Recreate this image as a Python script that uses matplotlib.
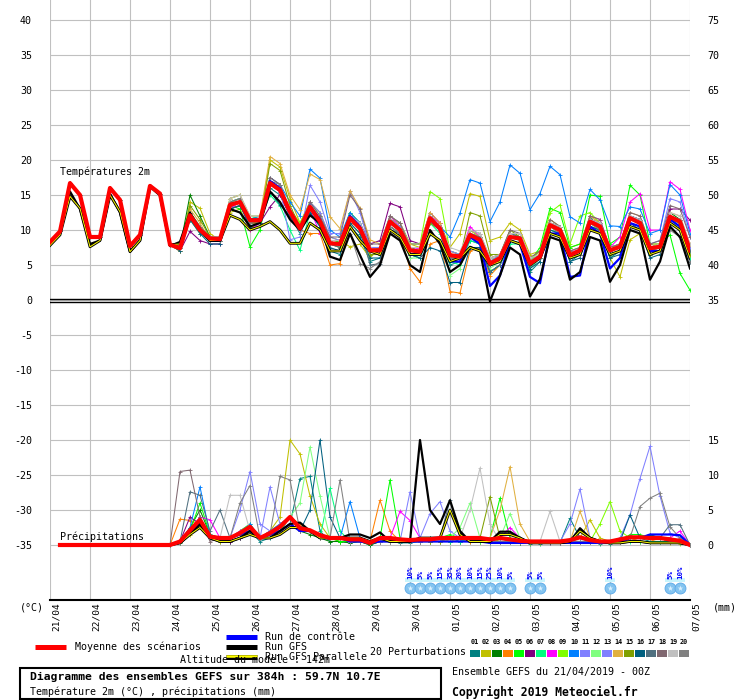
import matplotlib
matplotlib.use('Agg')
import matplotlib.pyplot as plt
from matplotlib.lines import Line2D
from matplotlib.patches import Rectangle
import matplotlib.transforms as mtrans

plt.rcParams['font.family'] = ['DejaVu Sans Mono', 'DejaVu Sans']

# ---------------- data ----------------
steps = list(range(65))                      # 6-hourly steps, 21/04 00Z .. 07/05 00Z
day_labels = ['21/04', '22/04', '23/04', '24/04', '25/04', '26/04', '27/04', '28/04',
              '29/04', '30/04', '01/05', '02/05', '03/05', '04/05', '05/05', '06/05', '07/05']
day_steps = list(range(0, 65, 4))

# temperature: common start (steps 0-12)
t_start = [8.3, 9.8, 16.7, 15.0, 9.0, 9.0, 16.0, 14.3, 7.7, 9.3, 16.3, 15.2, 7.9]

t_mean = [8.3, 9.8, 16.7, 15.0, 9.0, 9.0, 16.0, 14.3, 7.7, 9.3, 16.3, 15.2, 7.9,
          7.4, 12.1, 10.0, 8.8, 8.7, 13.6, 14.0, 11.4, 11.4, 16.7, 15.7,
          12.6, 10.2, 13.3, 11.2, 8.1, 8.0, 11.7, 10.2, 7.1, 7.1, 11.2, 10.0,
          7.1, 6.9, 11.7, 10.2, 6.4, 6.2, 9.3, 8.6, 5.2, 6.0, 9.0, 8.8,
          5.2, 6.2, 10.7, 10.0, 6.4, 7.1, 11.2, 10.5, 7.1, 7.6, 11.7, 11.0,
          7.4, 7.6, 11.9, 11.2, 7.1]

t_gfs = [8.0, 9.5, 15.5, 13.0, 8.0, 8.5, 15.2, 12.5, 6.9, 8.5, 16.4, 15.0, 7.7,
         8.3, 12.5, 10.0, 8.5, 8.5, 13.0, 12.5, 10.5, 11.0, 15.5, 14.0,
         11.5, 10.0, 12.1, 11.0, 6.2, 5.7, 9.5, 6.4, 3.3, 5.0, 9.5, 8.5,
         5.0, 4.0, 10.0, 8.0, 4.0, 5.0, 7.6, 7.0, -0.2, 3.5, 7.5, 6.5,
         0.5, 3.0, 9.0, 8.5, 2.9, 4.0, 9.0, 8.5, 2.6, 5.0, 10.0, 9.5,
         2.9, 5.5, 10.5, 9.0, 4.5]

t_para = [7.8, 9.3, 14.8, 13.1, 7.6, 8.5, 15.0, 12.6, 6.9, 8.5, 16.2, 15.0, 7.9,
          8.0, 12.0, 10.0, 8.5, 8.5, 12.1, 11.5, 10.0, 10.5, 11.2, 10.0,
          8.1, 8.1, 11.0, 10.0, 7.0, 7.0, 10.5, 8.5, 7.0, 6.5, 10.0, 9.0,
          6.5, 6.5, 9.5, 8.5, 5.5, 6.0, 7.5, 7.0, 5.0, 5.5, 8.5, 8.0,
          5.0, 6.0, 9.5, 9.0, 6.0, 6.5, 10.0, 9.5, 6.5, 7.0, 10.5, 10.0,
          6.5, 7.0, 11.0, 10.0, 6.0]

# control and perturbations: steps 13-64
t_ctrl = [7.5, 12.0, 10.0, 8.5, 8.5, 13.5, 14.0, 11.5, 11.5, 17.0, 16.0,
          12.5, 10.0, 13.5, 11.5, 8.0, 8.0, 12.0, 10.5, 7.0, 7.0, 11.0, 10.0,
          6.5, 6.5, 11.5, 10.0, 5.5, 5.5, 9.0, 8.0, 2.0, 3.5, 8.5, 8.0,
          3.3, 2.4, 9.5, 9.5, 3.3, 3.5, 10.5, 9.5, 4.5, 6.0, 11.0, 10.5,
          7.0, 7.0, 11.5, 10.5, 6.0]
t_m01 = [7.5, 11.5, 9.5, 8.5, 8.4, 13.0, 13.5, 11.0, 11.5, 16.0, 15.0,
         12.0, 9.5, 12.5, 10.5, 7.0, 6.5, 10.5, 9.0, 5.5, 6.0, 10.0, 9.5,
         6.5, 6.0, 9.5, 8.5, 5.0, 5.5, 8.5, 8.0, 4.0, 5.0, 8.5, 8.0,
         4.0, 5.5, 10.0, 9.5, 5.5, 6.5, 12.0, 10.0, 6.0, 7.0, 11.0, 10.5,
         6.5, 7.0, 11.5, 10.5, 6.0]
t_m02 = [7.0, 14.0, 13.1, 9.5, 8.5, 12.5, 13.0, 10.0, 11.5, 20.0, 19.0,
         14.5, 11.0, 14.0, 12.5, 9.0, 8.5, 7.6, 8.0, 6.0, 7.5, 11.5, 11.0,
         8.0, 7.5, 12.0, 11.0, 7.5, 9.5, 15.2, 14.8, 8.5, 9.0, 11.0, 10.0,
         6.5, 7.0, 11.5, 10.5, 7.5, 8.0, 12.0, 11.0, 6.0, 3.3, 8.6, 9.5,
         7.0, 8.0, 11.0, 10.5, 6.5]
t_m03 = [7.5, 15.0, 12.0, 9.0, 9.0, 14.0, 14.5, 11.5, 11.5, 17.0, 16.0,
         13.0, 10.5, 13.5, 11.5, 8.0, 8.0, 12.0, 11.0, 7.5, 7.0, 11.0, 10.0,
         7.0, 7.0, 11.5, 10.0, 6.0, 6.0, 9.0, 8.5, 5.0, 6.0, 9.5, 9.0,
         5.5, 6.5, 11.0, 10.0, 6.5, 7.0, 11.0, 10.0, 7.5, 8.0, 12.0, 11.5,
         7.5, 8.0, 12.5, 11.5, 7.5]
t_m04 = [7.0, 12.0, 10.0, 8.5, 8.5, 13.5, 14.0, 11.0, 11.0, 17.5, 16.5,
         12.5, 10.0, 9.5, 9.5, 5.0, 5.2, 11.0, 10.5, 6.5, 6.5, 10.5, 9.5,
         4.5, 2.6, 8.0, 8.5, 1.2, 1.0, 7.0, 7.5, 3.5, 5.0, 8.5, 8.0,
         4.5, 6.0, 10.5, 9.5, 6.0, 7.0, 11.5, 11.0, 7.0, 7.5, 12.0, 11.0,
         7.0, 7.5, 12.0, 11.5, 7.5]
t_m05 = [7.5, 12.5, 10.5, 9.0, 8.5, 13.5, 13.0, 7.6, 10.0, 16.5, 15.5,
         12.0, 10.0, 13.0, 11.0, 8.0, 8.5, 12.5, 11.0, 7.0, 7.5, 11.5, 10.5,
         7.5, 7.0, 12.0, 10.5, 6.5, 6.5, 10.0, 9.0, 5.5, 6.5, 9.5, 9.0,
         5.5, 7.5, 13.1, 12.5, 7.5, 8.0, 15.0, 14.8, 8.0, 9.0, 16.4, 15.0,
         8.0, 8.0, 9.3, 3.8, 1.4]
t_m06 = [7.0, 9.8, 8.5, 8.0, 8.0, 13.0, 13.5, 11.0, 11.0, 13.3, 15.0,
         12.0, 10.0, 13.0, 11.0, 8.5, 8.5, 12.0, 11.0, 8.0, 8.5, 13.8, 13.3,
         8.5, 8.0, 12.5, 11.0, 7.0, 6.5, 9.5, 9.0, 5.5, 6.0, 9.0, 9.0,
         5.5, 6.5, 11.0, 10.5, 6.5, 7.0, 11.5, 11.0, 7.0, 7.5, 12.0, 11.5,
         7.5, 8.0, 13.0, 13.0, 11.4]
t_m07 = [7.5, 12.0, 10.0, 9.0, 9.0, 14.0, 14.0, 12.0, 11.5, 15.0, 13.5,
         10.0, 7.1, 12.5, 10.5, 8.0, 8.0, 12.0, 10.5, 7.0, 7.0, 11.0, 10.0,
         6.5, 6.0, 11.0, 9.5, 5.5, 5.0, 8.5, 8.0, 4.0, 5.0, 8.0, 8.0,
         4.5, 6.0, 10.5, 10.0, 6.0, 6.5, 10.5, 10.0, 6.5, 7.0, 11.0, 10.5,
         7.0, 7.5, 11.5, 11.0, 6.0]
t_m08 = [7.5, 12.5, 10.0, 8.5, 8.5, 13.0, 14.0, 10.0, 11.0, 16.5, 15.5,
         12.0, 10.5, 13.0, 9.5, 8.0, 7.5, 11.5, 10.5, 7.0, 7.0, 12.0, 10.5,
         7.0, 7.5, 12.0, 11.0, 6.5, 6.5, 10.5, 9.0, 5.0, 6.0, 9.0, 9.0,
         5.0, 6.5, 11.0, 10.0, 7.0, 7.0, 12.0, 11.5, 7.5, 9.0, 14.0, 15.2,
         10.0, 10.0, 16.9, 15.8, 10.0]
t_m09 = [7.5, 12.5, 10.5, 9.0, 9.0, 14.5, 15.0, 11.5, 12.0, 17.0, 16.0,
         13.0, 11.0, 14.0, 12.0, 8.5, 8.5, 12.5, 11.0, 7.5, 7.5, 11.5, 10.5,
         8.0, 8.0, 15.5, 14.5, 7.0, 6.5, 9.5, 9.0, 5.5, 6.0, 9.0, 8.5,
         5.5, 7.0, 12.5, 13.6, 8.0, 12.0, 12.5, 11.0, 7.5, 8.0, 12.0, 11.0,
         7.5, 8.0, 12.0, 11.0, 7.0]
t_m10 = [7.5, 12.0, 10.0, 9.0, 9.0, 14.0, 14.5, 11.5, 12.0, 17.5, 16.5,
         14.0, 12.0, 18.7, 17.4, 10.0, 9.0, 12.5, 11.0, 7.5, 7.5, 12.0, 11.0,
         8.0, 8.0, 12.0, 10.5, 9.0, 12.4, 17.2, 16.7, 11.2, 14.0, 19.3, 18.1,
         12.9, 15.2, 19.1, 17.9, 11.9, 11.0, 15.8, 14.3, 10.6, 10.5, 13.3, 13.0,
         9.5, 10.0, 16.5, 15.0, 9.5]
t_m11 = [7.5, 12.0, 10.0, 8.5, 8.5, 13.5, 14.0, 11.5, 11.0, 17.0, 16.0,
         8.6, 9.0, 16.4, 14.0, 9.5, 9.5, 15.6, 12.5, 7.5, 7.0, 11.0, 10.0,
         7.0, 7.0, 11.5, 10.0, 6.0, 6.0, 9.5, 8.5, 5.0, 5.5, 9.0, 9.0,
         5.0, 6.0, 10.5, 10.0, 6.0, 7.0, 11.0, 10.5, 7.5, 8.0, 12.0, 11.5,
         8.0, 8.5, 14.5, 14.0, 9.0]
t_m12 = [7.0, 11.5, 9.5, 8.5, 8.5, 14.0, 14.5, 12.0, 12.0, 17.0, 16.0,
         13.0, 10.5, 13.0, 11.0, 8.0, 7.5, 11.0, 9.5, 6.5, 6.5, 10.5, 9.5,
         6.0, 6.0, 11.5, 10.0, 3.5, 4.5, 9.0, 8.5, 4.5, 5.5, 9.5, 9.0,
         5.0, 6.0, 10.0, 9.5, 6.0, 7.0, 11.0, 10.0, 6.5, 7.0, 11.5, 11.0,
         7.0, 7.5, 11.0, 10.5, 6.5]
t_m13 = [7.5, 12.5, 10.5, 9.0, 9.0, 13.5, 14.0, 11.0, 11.5, 16.5, 15.5,
         12.5, 10.0, 14.0, 12.5, 9.0, 8.5, 12.0, 11.0, 7.5, 7.5, 11.5, 10.5,
         7.5, 7.0, 12.0, 10.5, 7.0, 6.5, 9.5, 9.0, 5.5, 6.5, 9.5, 9.0,
         5.5, 6.5, 11.0, 10.5, 7.0, 7.5, 11.5, 11.0, 7.0, 7.5, 11.5, 11.0,
         7.5, 7.5, 12.0, 11.5, 7.5]
t_m14 = [7.0, 13.0, 11.0, 8.5, 8.5, 14.5, 15.0, 12.0, 12.0, 20.5, 19.5,
         15.0, 12.9, 18.0, 17.2, 11.9, 10.2, 15.6, 13.1, 8.6, 8.0, 12.0, 11.0,
         8.0, 8.0, 12.5, 11.0, 6.5, 6.5, 10.0, 9.0, 6.0, 6.5, 9.5, 9.5,
         6.0, 7.0, 11.0, 10.5, 7.0, 7.5, 12.0, 11.0, 7.5, 8.0, 12.5, 12.0,
         8.0, 8.0, 12.5, 12.0, 8.0]
t_m15 = [7.5, 13.5, 11.5, 9.0, 9.0, 13.0, 13.5, 11.0, 11.0, 19.5, 18.5,
         13.5, 10.5, 13.5, 11.5, 8.0, 7.5, 11.5, 10.5, 6.5, 6.5, 11.0, 10.0,
         7.0, 7.0, 11.0, 10.0, 6.0, 6.0, 12.5, 12.0, 6.5, 6.5, 10.0, 9.0,
         5.0, 6.0, 10.5, 10.0, 6.0, 6.5, 10.5, 10.0, 6.5, 7.0, 11.0, 10.5,
         6.5, 7.0, 11.5, 11.0, 6.5]
t_m16 = [7.0, 11.5, 9.5, 8.0, 8.0, 13.0, 13.5, 10.5, 11.0, 15.5, 13.6,
         12.0, 10.0, 12.5, 10.5, 7.5, 7.0, 11.0, 9.5, 6.0, 6.0, 10.5, 9.5,
         6.5, 6.0, 7.5, 7.0, 2.5, 2.5, 7.5, 7.5, 4.0, 5.0, 8.5, 8.0,
         4.5, 5.5, 10.0, 9.5, 5.5, 6.0, 10.5, 10.0, 6.0, 6.5, 11.0, 10.0,
         6.0, 6.5, 11.0, 10.0, 5.5]
t_m17 = [7.5, 12.0, 10.0, 9.0, 8.5, 13.5, 14.0, 11.5, 11.5, 17.0, 16.0,
         12.5, 10.0, 13.5, 11.5, 8.0, 7.5, 12.0, 10.5, 5.0, 5.2, 10.0, 9.5,
         6.5, 6.5, 12.0, 10.5, 6.0, 6.0, 9.5, 9.0, 4.0, 5.0, 9.5, 9.0,
         5.0, 6.5, 11.0, 10.5, 6.5, 7.0, 11.5, 11.0, 7.0, 7.5, 12.0, 11.5,
         7.0, 7.5, 12.0, 11.5, 7.0]
t_m18 = [7.5, 12.5, 10.5, 9.0, 9.0, 14.0, 14.5, 11.5, 11.5, 17.5, 16.5,
         13.0, 10.5, 14.0, 12.0, 9.0, 9.0, 15.0, 13.0, 8.0, 8.0, 12.0, 11.0,
         7.5, 7.0, 12.0, 10.5, 6.5, 6.5, 10.0, 9.5, 6.0, 6.5, 10.0, 9.5,
         6.0, 7.0, 11.5, 10.5, 7.0, 7.5, 12.0, 11.5, 7.5, 8.0, 12.5, 12.0,
         8.0, 8.5, 13.5, 13.0, 9.0]
t_m19 = [7.5, 12.0, 10.0, 9.0, 9.0, 14.5, 15.0, 12.0, 12.0, 17.0, 16.0,
         13.0, 10.5, 13.5, 11.5, 8.5, 8.5, 12.0, 11.0, 7.5, 7.0, 11.0, 10.0,
         7.5, 7.5, 12.0, 10.5, 7.5, 7.0, 10.0, 9.5, 6.0, 6.5, 9.5, 9.5,
         6.0, 6.5, 11.0, 10.5, 6.5, 7.0, 11.5, 11.0, 7.5, 7.5, 12.0, 11.5,
         7.5, 8.0, 12.5, 12.0, 8.0]
t_m20 = [7.5, 12.0, 10.0, 8.5, 8.5, 13.5, 14.0, 11.0, 11.5, 17.0, 16.5,
         12.5, 10.0, 13.0, 11.0, 8.0, 8.0, 9.5, 5.2, 4.5, 5.5, 10.5, 9.5,
         6.5, 6.5, 11.5, 10.0, 6.0, 6.0, 9.0, 8.5, 5.0, 6.0, 9.0, 8.5,
         5.0, 6.0, 10.5, 9.5, 6.0, 6.5, 11.0, 10.0, 7.0, 7.5, 11.5, 11.0,
         7.0, 7.0, 10.0, 9.0, 5.5]

# precipitation (mm / 6h)
p_mean = [0, 0, 0, 0, 0, 0, 0, 0, 0, 0, 0,          # steps 1-11
          0, 0.5, 2.1, 3.6, 1.2, 1.0, 1.0, 1.7, 2.6, 1.0, 1.7, 2.6,
          4.0, 2.4, 2.1, 1.4, 1.0, 1.0, 0.8, 0.8, 0.3, 1.0, 1.0, 0.8,
          0.7, 0.8, 0.8, 1.0, 1.0, 1.0, 1.0, 1.0, 0.8, 1.0, 0.8, 0.6,
          0.5, 0.5, 0.5, 0.5, 0.7, 1.1, 0.7, 0.5, 0.5, 0.8, 1.1, 1.1,
          1.0, 1.0, 0.8, 0.6, 0.0]
# steps 12-64
p_gfs = [0, 0.3, 1.5, 3, 1, 0.5, 0.5, 1, 2, 1, 1, 2, 3, 3.2, 2, 1.5,
         1, 1, 1.5, 1.5, 1, 1.8, 0.5, 0.5, 0.5, 15, 5, 3, 6.4, 2, 0.5, 0.5,
         0.5, 1.9, 1.9, 1, 0.3, 0.3, 0.3, 0.3, 0.5, 2.4, 1, 0.5,
         0.3, 0.3, 0.5, 0.5, 0.3, 0.3, 0.3, 0.3, 0]
p_para = [0, 0.3, 1.5, 2.5, 1, 0.5, 0.5, 1, 1.5, 1, 1, 1.5, 2.5, 2.5, 2, 1,
          1, 1, 1, 1, 0.5, 1, 0.5, 0.5, 0.5, 1, 1, 1, 5, 1.5, 0.5, 0.5,
          0.5, 1.5, 1.5, 1, 0.3, 0.3, 0.3, 0.3, 0.5, 2, 1, 0.5,
          0.3, 0.3, 0.5, 0.5, 0.3, 0.3, 0.3, 0.3, 0]
p_ctrl = [0, 0.5, 2, 3, 1, 1, 1, 1.5, 2, 1, 1.5, 2, 3, 2, 2, 1,
          1, 1, 0.5, 0.5, 0.3, 0.5, 0.5, 0.5, 0.5, 0.5, 0.5, 0.5, 0.5, 0.5, 0.5, 0.5,
          0.3, 0.3, 0.3, 0.3, 0.3, 0.3, 0.3, 0.3, 0.3, 0.3, 0.3, 0.3,
          0.3, 0.3, 1, 1, 1.5, 1.5, 1.5, 1.4, 0]
p_m01 = [0, 0.5, 2, 4, 1, 0.5, 0.5, 1, 2, 0.5, 1, 2, 3, 9.5, 9.8, 2,
         0.5, 0.5, 0.3, 0.5, 0, 0.5, 0.5, 0.3, 0.3, 0.5, 0.5, 1, 1, 0.5, 0.5, 0.5,
         0.3, 0.5, 0.5, 0.3, 0.2, 0.2, 0.3, 0.3, 3.8, 1, 0.5, 0.2,
         0.2, 0.5, 1, 1, 0.5, 0.5, 0.5, 0.3, 0]
p_m02 = [0, 0.5, 1.5, 3, 1, 0.5, 1, 2, 3, 1, 2, 4, 15, 13, 7, 3,
         1, 0.5, 0.5, 0.5, 0.2, 0.5, 0.5, 0.5, 0.5, 0.5, 0.5, 1, 0.5, 1, 1, 0.5,
         0.5, 1, 1, 0.5, 0.3, 0.3, 0.5, 0.3, 0.5, 1, 3.6, 1,
         0.5, 0.5, 1, 0.5, 0.5, 0.5, 0.3, 0.2, 0]
p_m03 = [0, 0.3, 2.5, 5, 1.5, 1, 0.5, 1, 2, 1, 1.5, 2, 3, 2, 1.5, 1,
         0.5, 0.5, 0.3, 0.5, 0, 0.5, 1, 0.5, 0.5, 0.5, 0.5, 0.5, 0.5, 0.5, 1, 1,
         0.5, 1, 0.5, 0.3, 0.3, 0.3, 0.3, 0.3, 0.3, 0.5, 0.5, 0.3,
         0.3, 0.5, 1, 1, 1.5, 1, 0.5, 0.5, 0]
p_m04 = [0, 3.7, 3.5, 3, 1, 1, 1, 1.5, 2, 1, 2, 3, 4, 3, 2, 1,
         1, 1, 0.5, 1, 0.5, 6.4, 2, 0.5, 0.5, 0.5, 0.5, 0.5, 1, 1, 0.5, 0.5,
         0.5, 0.5, 0.5, 0.5, 0.3, 0.3, 0.3, 0.5, 0.5, 0.5, 0.5, 0.5,
         0.5, 0.5, 1, 0.5, 0.5, 1, 1, 0.5, 0]
p_m05 = [0, 0.5, 2, 6, 1.5, 1, 1, 1.5, 2, 1, 1.5, 2, 3, 2, 2, 1,
         1, 0.5, 0.5, 0.5, 0.3, 1, 9.3, 1, 0.5, 0.5, 1, 1, 1.5, 1, 1, 1,
         1, 6.7, 1, 0.5, 0.3, 0.3, 0.3, 0.3, 0.5, 0.5, 0.5, 0.5,
         0.5, 0.5, 1.5, 1.5, 1, 1, 1, 0.5, 0]
p_m06 = [0, 0.5, 4, 3, 1, 1, 0.5, 1, 2, 1, 2, 2, 3, 2, 2, 1,
         1, 1, 0.5, 0.5, 0.3, 0.5, 0.5, 0.5, 0.5, 1, 1, 1, 1, 1, 1, 1,
         0.5, 0.5, 0.5, 0.5, 0.5, 0.5, 0.5, 0.5, 0.5, 1, 0.5, 0.5,
         0.5, 0.5, 1, 1, 1, 1, 0.5, 0.5, 0]
p_m07 = [0, 0.5, 2, 3.5, 1, 1, 1, 2, 3, 1, 1.5, 2, 4, 2.5, 2, 1,
         8.1, 2, 0.5, 0.5, 0.3, 0.5, 1, 0.5, 0.5, 0.5, 0.5, 0.5, 0.5, 0.5, 1, 0.5,
         0.5, 0.5, 0.5, 0.5, 0.3, 0.3, 0.3, 0.3, 0.3, 0.5, 0.5, 0.3,
         0.3, 0.5, 0.5, 0.5, 0.5, 0.5, 0.5, 0.3, 0]
p_m08 = [0, 0.5, 2, 4, 3.6, 1, 1, 2, 2.5, 1, 1.5, 2, 4, 2, 2, 1.5,
         1, 1, 0.5, 0.5, 0.3, 0.5, 1, 4.8, 3.5, 1, 1, 1, 1, 1, 1, 1,
         1, 1, 2.5, 1, 0.5, 0.5, 0.3, 0.3, 0.5, 0.5, 0.5, 0.5,
         0.5, 1, 1, 1, 1, 1, 1, 2, 0]
p_m09 = [0, 0.5, 2, 3, 1, 1, 1, 1.5, 2, 1, 1.5, 2, 4, 2, 2, 1,
         1, 1, 0.5, 0.5, 0.3, 0.5, 1, 0.5, 0.5, 0.5, 1, 1, 1, 1, 1, 1,
         1, 0.5, 0.5, 0.5, 0.3, 0.3, 0.5, 0.5, 0.5, 0.5, 0.5, 3,
         6.2, 2, 1, 1, 1, 1, 0.5, 0.5, 0]
p_m10 = [0, 0.5, 2.5, 8.3, 1.5, 1, 1, 1.5, 3, 1, 2, 3, 4, 2, 2, 1.5,
         1, 1, 6.2, 1, 0.3, 1, 1, 0.5, 0.5, 0.5, 1, 1, 1, 1, 1, 1,
         0.5, 0.5, 0.5, 0.5, 0.5, 0.5, 0.5, 0.5, 0.5, 1, 0.5, 0.5,
         0.5, 0.5, 1, 1, 1, 1, 0.5, 0.5, 0]
p_m11 = [0, 0.5, 2, 3, 1, 1, 1, 5, 10.5, 3, 2, 2, 4, 2, 2, 1.5,
         1, 1, 0.5, 0.5, 0.3, 1, 1, 0.5, 7.6, 1, 4.5, 6.2, 2, 1, 1, 1,
         0.5, 1, 0.5, 0.5, 0.5, 0.5, 0.5, 0.5, 0.5, 1, 0.5, 0.5,
         0.5, 1, 4.3, 9.5, 14.1, 7, 1.7, 1, 0]
p_m12 = [0, 0.5, 2, 3, 1, 1, 1, 1.5, 2, 1, 1.5, 2, 4, 6, 14, 7,
         1, 1, 0.5, 0.5, 0.3, 0.5, 0.5, 0.5, 0.5, 0.5, 1, 1, 1, 2.5, 6, 1,
         1, 1, 4.5, 1, 0.5, 0.5, 0.5, 0.5, 0.5, 0.5, 0.5, 0.5,
         0.5, 0.5, 1, 1, 1, 1, 0.5, 0.5, 0]
p_m13 = [0, 0.5, 2, 3, 1, 1, 1, 1.5, 2, 1, 8.3, 3, 4, 2, 2, 1,
         1, 1, 0.5, 0.5, 0.3, 0.5, 0.5, 0.5, 0.5, 0.5, 1, 1, 1, 1, 1, 1,
         0.5, 0.5, 0.5, 0.5, 0.5, 0.5, 0.5, 0.5, 3, 8, 1, 0.5,
         0.5, 0.5, 1, 1, 1, 1, 0.5, 0.5, 0]
p_m14 = [0, 0.5, 2, 3, 1, 1, 1, 1.5, 2, 1, 1.5, 2, 4, 2, 2, 1,
         1, 1, 0.5, 0.5, 0.3, 0.5, 0.5, 0.5, 0.5, 0.5, 0.5, 0.5, 1, 1, 1, 1,
         1, 5, 11.2, 3, 0.5, 0.5, 0.5, 0.5, 0.5, 4.8, 1, 0.5,
         0.5, 0.5, 1, 1, 1, 1, 0.5, 0.5, 0]
p_m15 = [0, 0.5, 2, 3, 1, 1, 1, 1.5, 2, 1, 1.5, 2, 4, 2, 2, 1,
         1, 1, 0.5, 0.5, 0.3, 0.5, 0.5, 0.5, 0.5, 0.5, 0.5, 0.5, 1, 1, 1, 1,
         6.9, 1, 0.5, 0.5, 0.5, 0.5, 0.5, 0.5, 0.5, 0.5, 0.5, 0.5,
         0.5, 0.5, 1, 1, 1, 1, 0.5, 0.5, 0]
p_m16 = [0, 0.5, 2, 3, 1, 1, 1, 1.5, 2, 1, 1.5, 2, 3, 2, 5, 15,
         4, 1, 0.5, 0.5, 0.3, 0.5, 0.5, 0.5, 0.5, 0.5, 1, 1, 1, 1, 1, 1,
         0.5, 0.5, 0.5, 0.5, 0.5, 0.5, 0.5, 0.5, 0.5, 0.5, 0.5, 0.5,
         0.5, 0.5, 4.3, 1, 1, 1, 0.5, 0.5, 0]
p_m17 = [0, 0.5, 7.6, 7.1, 2, 5, 1, 1.5, 2, 1, 1.5, 2, 3, 2, 2, 1,
         1, 1, 0.5, 0.5, 0.3, 0.5, 0.5, 0.5, 0.5, 0.5, 1, 1, 6.4, 1, 1, 1,
         0.5, 0.5, 0.5, 0.5, 0.5, 0.5, 0.5, 0.5, 0.5, 0.5, 0.5, 0.5,
         0.5, 0.5, 1, 1, 1, 1, 2.9, 2.9, 0]
p_m18 = [0, 10.5, 10.7, 4, 0.5, 1, 1, 1.5, 2, 1, 1.5, 2, 3, 2, 2, 1,
         1, 1, 0.5, 0.5, 0.3, 0.5, 0.5, 0.5, 0.5, 0.5, 1, 1, 1, 1, 1, 1,
         0.5, 0.5, 0.5, 0.5, 0.5, 0.5, 0.5, 0.5, 0.5, 0.5, 0.5, 0.5,
         0.5, 0.5, 1, 1, 1, 1, 0.5, 0.5, 0]
p_m19 = [0, 0.5, 2, 3, 1, 1, 7.1, 7.1, 2, 1, 1.5, 2, 3, 2, 2, 1,
         1, 1, 0.5, 0.5, 0.3, 0.5, 0.5, 0.5, 0.5, 0.5, 1, 1, 1, 1, 5, 11,
         3, 0.5, 0.5, 0.5, 0.5, 0.5, 4.8, 0.5, 0.5, 0.5, 0.5, 0.5,
         0.5, 0.5, 1, 1, 1, 1, 0.5, 0.5, 0]
p_m20 = [0, 0.5, 2, 3, 1, 1, 1, 6, 8.5, 1, 1.5, 9.8, 9.3, 2, 2, 1,
         1, 9.3, 0.5, 0.5, 0.3, 0.5, 0.5, 0.5, 0.5, 0.5, 1, 1, 1, 1, 1, 1,
         0.5, 0.5, 0.5, 0.5, 0.5, 0.5, 0.5, 0.5, 0.5, 0.5, 0.5, 0.5,
         0.5, 0.5, 1, 5.5, 6.7, 7.4, 2.6, 1, 0]

# snow probability markers
snow_steps = [36, 37, 38, 39, 40, 41, 42, 43, 44, 45, 46, 48, 49, 56, 62, 63]
snow_pct = [10, 5, 5, 15, 35, 20, 10, 15, 25, 10, 5, 5, 5, 10, 5, 10]

member_colors = ['#008080', '#c0c000', '#008000', '#ff8000', '#00ff00', '#800080',
                 '#00ff80', '#ff00ff', '#80ff00', '#0080ff', '#8080ff', '#80ff80',
                 '#8080ff', '#e0b040', '#80a000', '#006080', '#507080', '#806870',
                 '#c0c0c0', '#808080']

member_t = [t_m01, t_m02, t_m03, t_m04, t_m05, t_m06, t_m07, t_m08, t_m09, t_m10,
            t_m11, t_m12, t_m13, t_m14, t_m15, t_m16, t_m17, t_m18, t_m19, t_m20]
member_p = [p_m01, p_m02, p_m03, p_m04, p_m05, p_m06, p_m07, p_m08, p_m09, p_m10,
            p_m11, p_m12, p_m13, p_m14, p_m15, p_m16, p_m17, p_m18, p_m19, p_m20]

# ---------------- figure ----------------
W, H = 740, 700
fig = plt.figure(figsize=(W / 100, H / 100), dpi=100)


def fx(x):
    return x / W


def fy(y):
    return 1 - y / H


FS = 7.2
ax = fig.add_axes([fx(50), fy(600), 640 / W, 600 / H])
ax.set_xlim(0, 64)
ax.set_ylim(-300 / 7, 300 / 7)
ax2 = ax.twinx()
ax2.set_ylim(-300 / 7 + 35, 300 / 7 + 35)

ax.set_yticks(list(range(-35, 45, 5)))
ax.set_yticklabels([str(v) for v in range(-35, 45, 5)], fontsize=FS)
right_ticks = [0, 5, 10, 15, 35, 40, 45, 50, 55, 60, 65, 70, 75]
ax2.set_yticks(right_ticks)
ax2.set_yticklabels([str(v) for v in right_ticks], fontsize=FS)
ax.tick_params(axis='y', length=0, pad=13)
ax2.tick_params(axis='y', length=0, pad=12.5)

ax.set_xticks(day_steps)
ax.set_xticklabels(day_labels, rotation=90, fontsize=6.8)
ax.tick_params(axis='x', length=0, pad=1.5)
off = mtrans.ScaledTranslation(6.5 / 100, 0, fig.dpi_scale_trans)
for lab in ax.get_xticklabels():
    lab.set_transform(lab.get_transform() + off)

ax.grid(True, color='#c0c0c0', lw=0.8)
ax.set_axisbelow(True)
for s in ['top', 'left', 'right']:
    ax.spines[s].set_visible(False)
    ax2.spines[s].set_visible(False)
ax2.spines['bottom'].set_visible(False)
ax.spines['bottom'].set_color('black')
ax.spines['bottom'].set_linewidth(1.5)

# zero line (double)
ax.axhline(0.2, color='black', lw=1.0, zorder=2)
ax.axhline(-0.25, color='black', lw=1.0, zorder=2)

# temperature members
for t, c in zip(member_t, member_colors):
    ax.plot(steps, t_start + t, color=c, lw=0.75, marker='+', ms=3, mew=0.6, zorder=3)
ax.plot(steps, t_start + t_ctrl, color='#0000ff', lw=1.6, zorder=4)
ax.plot(steps, t_gfs, color='black', lw=1.6, zorder=5)
ax.plot(steps, t_para, color='black', lw=2.0, zorder=5)
ax.plot(steps, t_para, color='#ffff00', lw=0.7, zorder=5)
ax.plot(steps, t_mean, color='#ff0000', lw=3.0, zorder=6, solid_joinstyle='round')

# precipitation
psteps = steps[12:]
for p, c in zip(member_p, member_colors):
    ax2.plot(psteps, p, color=c, lw=0.75, marker='+', ms=3, mew=0.6, zorder=3)
ax2.plot(psteps, p_ctrl, color='#0000ff', lw=1.6, zorder=4)
ax2.plot(psteps, p_gfs, color='black', lw=1.6, zorder=5)
ax2.plot(psteps, p_para, color='black', lw=2.0, zorder=5)
ax2.plot(psteps, p_para, color='#ffff00', lw=0.7, zorder=5)
ax2.plot(steps[1:], p_mean, color='#ff0000', lw=3.0, zorder=6, solid_joinstyle='round')

# snow markers
for s_, pc in zip(snow_steps, snow_pct):
    ax.add_patch(Rectangle((s_ - 0.5, -40.35), 1.0, 0.6, color='#c8f4fc', lw=0,
                           clip_on=False, zorder=2))
    ax.text(s_, -39.9, f"{pc}%", rotation=90, ha='center', va='bottom',
            fontsize=5.3, fontweight='bold', color='#0000ff', zorder=7, clip_on=False)
ax.scatter(snow_steps, [-41.2] * len(snow_steps), s=62, color='#84c4f0',
           edgecolors='#5aa8e8', linewidths=0.6, zorder=7, clip_on=False)
ax.scatter(snow_steps, [-41.2] * len(snow_steps), s=18, marker='*', color='#d8f0ff',
           linewidths=0, zorder=8, clip_on=False)

# texts inside plot
fig.text(fx(60), fy(172), "Températures 2m", fontsize=FS, va='center', ha='left')
fig.text(fx(60), fy(537), "Précipitations", fontsize=FS, va='center', ha='left')
fig.text(fx(20), fy(607), "(°C)", fontsize=FS, va='center', ha='left')
fig.text(fx(713), fy(607), "(mm)", fontsize=FS, va='center', ha='left')

# legend
def hline(x0, x1, y, color, lw):
    fig.add_artist(Line2D([fx(x0), fx(x1)], [fy(y), fy(y)], color=color, lw=lw,
                          transform=fig.transFigure, solid_capstyle='butt'))

hline(35, 66, 647, '#ff0000', 3.6)
fig.text(fx(75), fy(647), "Moyenne des scénarios", fontsize=FS, va='center')
hline(226, 257, 637, '#0000ff', 3.6)
fig.text(fx(265), fy(637), "Run de contrôle", fontsize=FS, va='center')
hline(226, 257, 647, 'black', 3.6)
fig.text(fx(265), fy(647), "Run GFS", fontsize=FS, va='center')
hline(226, 257, 657, 'black', 3.6)
hline(226, 257, 656.3, '#ffff00', 1.8)
fig.text(fx(265), fy(657), "Run GFS Parallele", fontsize=FS, va='center')
fig.text(fx(180), fy(660), "Altitude du modèle : 142m", fontsize=FS, va='center')
fig.text(fx(370), fy(652), "20 Perturbations", fontsize=FS, va='center')
for i, c in enumerate(member_colors):
    x0 = 470 + 11 * i
    fig.text(fx(x0 + 5), fy(642), f"{i + 1:02d}", fontsize=4.9, fontweight='bold',
             ha='center', va='center')
    fig.add_artist(Rectangle((fx(x0), fy(656.5)), 10 / W, 7 / H, color=c, lw=0,
                             transform=fig.transFigure))

# info box
fig.add_artist(Rectangle((fx(20), fy(699)), 421 / W, 31 / H, fill=False, ec='black',
                         lw=1.5, transform=fig.transFigure))
fig.text(fx(30), fy(677), "Diagramme des ensembles GEFS sur 384h : 59.7N 10.7E",
         fontsize=8.2, fontweight='bold', va='center')
fig.text(fx(30), fy(692), "Température 2m (°C) , précipitations (mm)",
         fontsize=FS, va='center')
fig.text(fx(452), fy(672), "Ensemble GEFS du 21/04/2019 - 00Z", fontsize=FS, va='center')
fig.text(fx(452), fy(692), "Copyright 2019 Meteociel.fr", fontsize=8.3,
         fontweight='bold', va='center')

fig.savefig('out.png', dpi=100)
